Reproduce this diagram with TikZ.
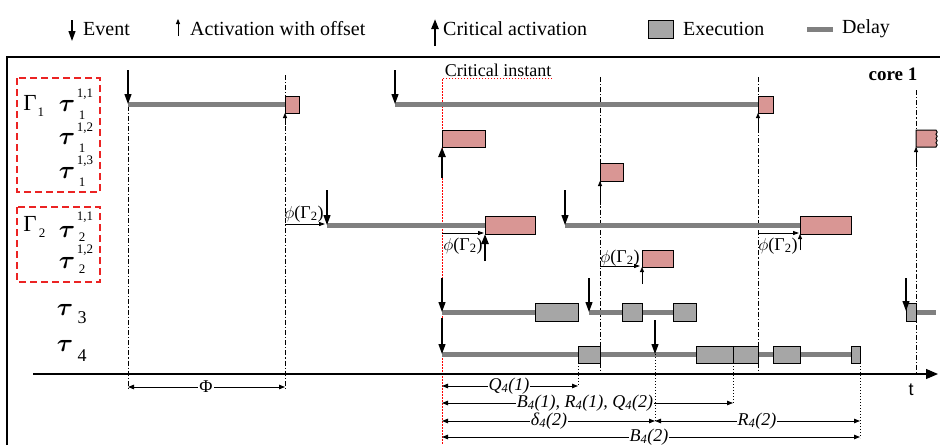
\documentclass[tikz,border=0pt]{standalone}
\usepackage{bm}
\usepackage{fontspec}
\setmainfont{Liberation Serif}
\newfontfamily\axisfont{Liberation Sans}
\usetikzlibrary{arrows.meta}
\definecolor{critpink}{RGB}{217,150,148}
\definecolor{execgray}{RGB}{166,166,166}
\definecolor{delaygray}{RGB}{128,128,128}
\definecolor{grpred}{RGB}{235,35,35}
\begin{document}
\begin{tikzpicture}[x=1pt,y=-1pt,
  lg/.style={font=\fontsize{20}{24}\selectfont, inner sep=0pt, anchor=west},
  sm/.style={font=\fontsize{18}{21}\selectfont, inner sep=0pt},
  dl/.style={font=\fontsize{18}{21}\selectfont\itshape, inner sep=1pt, fill=white},
  taus/.style={font=\fontsize{31}{33}\selectfont, inner sep=0pt},
  gam/.style={font=\fontsize{23}{26}\selectfont, inner sep=0pt},
  idx/.style={font=\fontsize{13}{15}\selectfont, inner sep=0pt},
  idxb/.style={font=\fontsize{18}{20}\selectfont, inner sep=0pt},
  delay/.style={line width=5pt, draw=delaygray},
  exe/.style={draw=black, line width=1pt, fill=execgray},
  crit/.style={draw=black, line width=1pt, fill=critpink},
  evt/.style={-{Triangle[length=10pt,width=7pt]}, line width=1.2pt},
  actoff/.style={-{Triangle[length=5pt,width=4pt]}, line width=0.8pt},
  critact/.style={-{Triangle[length=10pt,width=7pt]}, line width=2.2pt},
  phiarr/.style={-{Triangle[length=6pt,width=4pt]}, line width=0.9pt},
  dashdot/.style={line width=0.9pt, dash pattern=on 5pt off 2pt on 1.2pt off 2pt},
  dotln/.style={line width=0.9pt, dash pattern=on 1.2pt off 1.8pt},
  dimarr/.style={{Triangle[length=6pt,width=4.5pt]}-{Triangle[length=6pt,width=4.5pt]}, line width=0.9pt},
  grp/.style={draw=grpred, line width=1.4pt, dash pattern=on 7pt off 4pt},
]
\useasboundingbox (0,0) rectangle (940,445);

% ---------- legend ----------
\draw[evt] (72,20) -- (72,41);
\node[lg] (lev) at (83,29) {Event};
\draw[actoff] (178,36) -- (178,19);
\node[lg] (lact) at (190,29) {Activation with offset};
\draw[critact] (435,46) -- (435,19);
\node[lg] (lcrit) at (443,29) {Critical activation};
\draw[exe] (648,20) rectangle (673,38);
\node[lg] (lexe) at (683,29) {Execution};
\draw[delay] (807,29) -- (833,29);
\node[lg] (ldel) at (842,29) {Delay};

% ---------- frame ----------
\draw[line width=1.2pt] (7,445) -- (7,57) -- (940,57);

% ---------- group boxes and labels ----------
\draw[grp] (17,78) rectangle (100,192);
\draw[grp] (17,207) rectangle (100,282);

\node[gam] (g1) at (30,103) {Γ};
\node[idx] (g1s) at (41,112) {1};
\node[taus] (t11) at (67,106) {$\bm\tau$};
\node[idx] (t11u) at (85,94) {1,1};
\node[idx] (t11d) at (82,115) {1};
\node[taus] (t12) at (67,139) {$\bm\tau$};
\node[idx] (t12u) at (85,128) {1,2};
\node[idx] (t12d) at (82,148) {1};
\node[taus] (t13) at (67,173) {$\bm\tau$};
\node[idx] (t13u) at (85,161) {1,3};
\node[idx] (t13d) at (82,182) {1};

\node[gam] (g2) at (30,224) {Γ};
\node[idx] (g2s) at (42,233) {2};
\node[taus] (t21) at (67,232) {$\bm\tau$};
\node[idx] (t21u) at (85,217) {1,1};
\node[idx] (t21d) at (82,237) {2};
\node[taus] (t22) at (67,263) {$\bm\tau$};
\node[idx] (t22u) at (85,250) {1,2};
\node[idx] (t22d) at (82,269) {2};

\node[taus] (t3) at (65,310) {$\bm\tau$};
\node[idxb] (t3d) at (82,318) {3};
\node[taus] (t4) at (65,346) {$\bm\tau$};
\node[idxb] (t4d) at (82,356) {4};

% ---------- vertical reference lines ----------
\draw[dashdot] (128,75) -- (128,390);
\draw[dashdot] (285,75) -- (285,390);
\draw[dashdot] (600,77) -- (600,375);
\draw[dashdot] (758,77) -- (758,375);
\draw[dashdot] (916,90) -- (916,375);

\draw[red, line width=1pt, dash pattern=on 1.5pt off 1.5pt] (552,78) -- (442,78) -- (442,445);
\node[sm, anchor=base] (ci) at (498,76) {Critical instant};
\node[font=\fontsize{19}{22}\selectfont\bfseries, inner sep=0pt] (core) at (893,74) {core 1};

% ---------- delay bars ----------
\draw[delay] (128,104) -- (285,104);
\draw[delay] (395,104) -- (758,104);
\draw[delay] (327,225) -- (485,225);
\draw[delay] (565,225) -- (800,225);
\draw[delay] (442,312) -- (535,312);
\draw[delay] (589,312) -- (696,312);
\draw[delay] (916,312) -- (936,312);
\draw[delay] (442,354) -- (860,354);

% ---------- critical (pink) boxes ----------
\draw[crit] (285,96) rectangle (299,113);
\draw[crit] (758,96) rectangle (773,113);
\draw[crit] (442,130) rectangle (485,147);
\draw[crit] (916,130) -- (936,130)
  to[out=-20,in=20] (936,134.25) to[out=-20,in=20] (936,138.5)
  to[out=-20,in=20] (936,142.75) to[out=-20,in=20] (936,147) -- (916,147) -- cycle;
\draw[crit] (600,163) rectangle (623,181);
\draw[crit] (485,216) rectangle (535,234);
\draw[crit] (800,216) rectangle (851,234);
\draw[crit] (642,250) rectangle (673,267);

% ---------- execution (gray) boxes ----------
\draw[exe] (535,303) rectangle (578,321);
\draw[exe] (622,303) rectangle (642,321);
\draw[exe] (673,303) rectangle (696,321);
\draw[exe] (906,303) rectangle (916,321);
\draw[exe] (578,346) rectangle (600,363);
\draw[exe] (696,346) rectangle (733,363);
\draw[exe] (733,346) rectangle (758,363);
\draw[exe] (773,346) rectangle (800,363);
\draw[exe] (851,346) rectangle (860,363);

% ---------- events ----------
\draw[evt] (128,70) -- (128,104);
\draw[evt] (395,70) -- (395,104);
\draw[evt] (327,190) -- (327,225);
\draw[evt] (565,190) -- (565,225);
\draw[evt] (442,278) -- (442,312);
\draw[evt] (589,278) -- (589,312);
\draw[evt] (906,278) -- (906,311);
\draw[evt] (442,318) -- (442,354);
\draw[evt] (655,320) -- (655,354);

% ---------- activations with offset ----------
\draw[actoff] (285,125) -- (285,113);
\draw[actoff] (758,133) -- (758,113);
\draw[actoff] (916,167) -- (916,147);
\draw[actoff] (600,205) -- (600,181);
\draw[actoff] (800,250) -- (800,234);
\draw[actoff] (642,284) -- (642,267);

% ---------- critical activations ----------
\draw[critact] (442,178) -- (442,147);
\draw[critact] (485,261) -- (485,234);

% ---------- offsets phi(Gamma2) ----------
\draw[phiarr] (285,224) -- (325,224);
\node[sm] (p1) at (304,214) {$\phi$(Γ\textsubscript{2})};
\draw[phiarr] (442,233) -- (484,233);
\node[sm] (p2) at (463,246) {$\phi$(Γ\textsubscript{2})};
\draw[phiarr] (758,233) -- (799,233);
\node[sm] (p3) at (778,246) {$\phi$(Γ\textsubscript{2})};
\draw[phiarr] (600,266) -- (640,266);
\node[sm] (p4) at (620,258) {$\phi$(Γ\textsubscript{2})};

% ---------- time axis ----------
\draw[line width=1.2pt, -{Triangle[length=12pt,width=10pt]}] (33,374) -- (938,374);
\node[font=\axisfont\fontsize{18}{20}\selectfont, inner sep=0pt] (tl) at (911,390) {t};

% ---------- dotted projections ----------
\draw[dotln] (578,363) -- (578,386);
\draw[dotln] (655,354) -- (655,421);
\draw[dotln] (733,363) -- (733,403);
\draw[dotln] (860,363) -- (860,438);

% ---------- dimension arrows ----------
\draw[dimarr] (128,387) -- (285,387);
\node[sm, fill=white, inner sep=1pt] (phil) at (206,387) {Φ};
\draw[dimarr] (442,386) -- (578,386);
\node[dl] (q41) at (509,386) {Q\textsubscript{4}(1)};
\draw[dimarr] (442,403) -- (733,403);
\node[dl] (b41) at (585,403) {B\textsubscript{4}(1), R\textsubscript{4}(1), Q\textsubscript{4}(2)};
\draw[dimarr] (442,421) -- (655,421);
\node[dl] (d42) at (549,421) {δ\textsubscript{4}(2)};
\draw[dimarr] (655,421) -- (860,421);
\node[dl] (r42) at (757,421) {R\textsubscript{4}(2)};
\draw[dimarr] (442,437) -- (860,437);
\node[dl, inner sep=0.5pt] (b42) at (649,437) {B\textsubscript{4}(2)};
\end{tikzpicture}
\end{document}
